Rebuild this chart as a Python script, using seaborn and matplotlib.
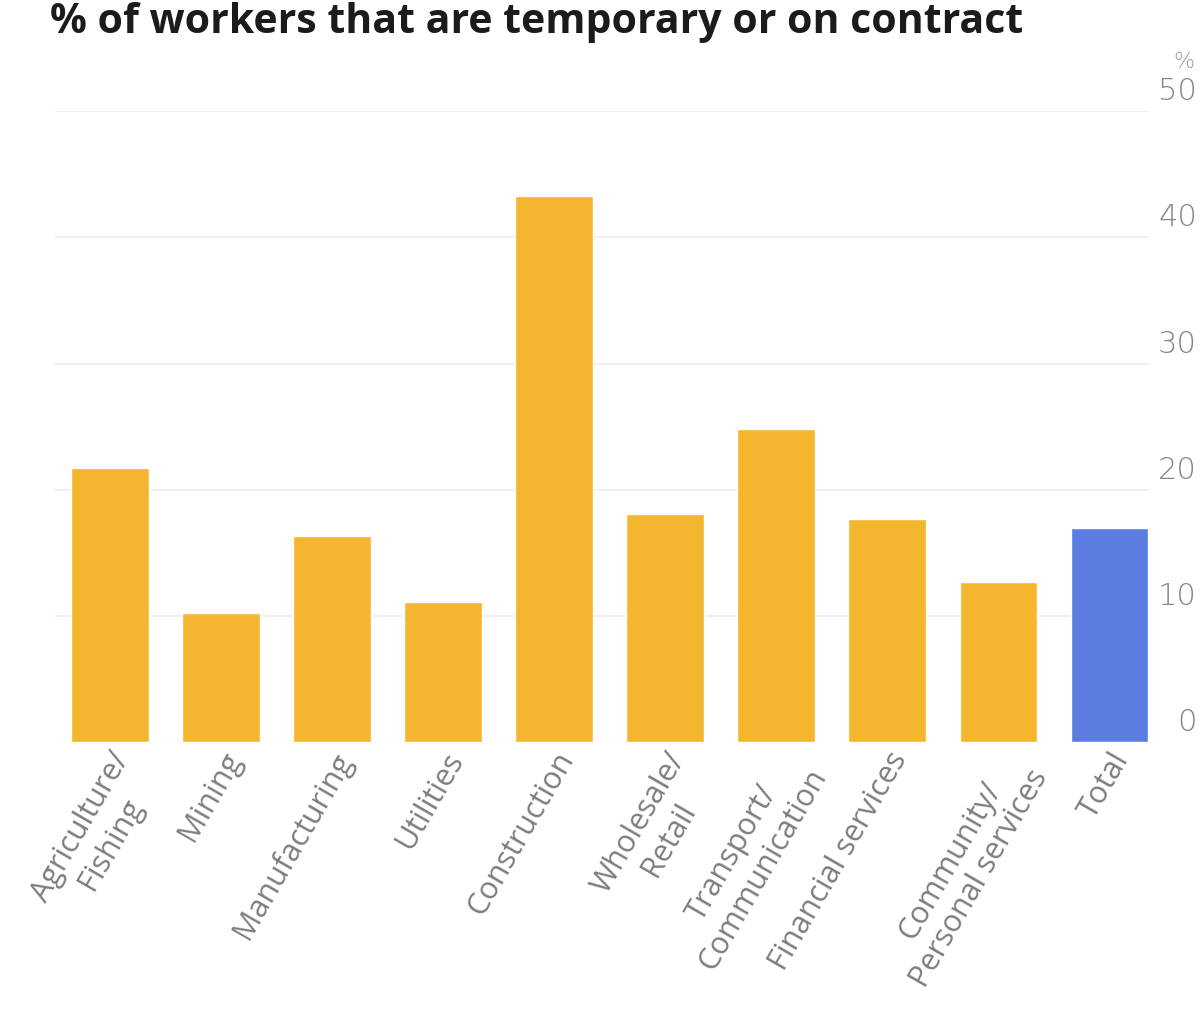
import matplotlib
matplotlib.use('Agg')
import matplotlib.pyplot as plt
import matplotlib.transforms as mtransforms
import seaborn as sns
import pandas as pd

# ----------------------------------------------------------------------
# data
# ----------------------------------------------------------------------
categories = [
    "Agriculture/\nFishing", "Mining", "Manufacturing", "Utilities",
    "Construction", "Wholesale/\nRetail", "Transport/\nCommunication",
    "Financial services", "Community/\nPersonal services", "Total",
]
values = [21.7, 10.2, 16.3, 11.1, 43.3, 18.1, 24.8, 17.7, 12.7, 17.0]
bar_colors = ["#F4B52F"] * 9 + ["#5B7CE0"]
y_ticks = [0, 10, 20, 30, 40, 50]
title = "% of workers that are temporary or on contract"


def main():
    sns.set_theme(style="white")
    plt.rcParams['font.family'] = ['Open Sans', 'DejaVu Sans']

    df = pd.DataFrame({"sector": categories, "share": values})

    fig = plt.figure(figsize=(12.01, 10.11), dpi=100)
    ax = fig.add_axes([0.0454, 0.266, 0.9246, 0.624])

    sns.barplot(data=df, x="sector", y="share", hue="sector",
                palette=bar_colors, legend=False, width=0.7,
                saturation=1, ax=ax)

    ax.set_ylim(0, 50)
    ax.set_xlim(-0.5, len(categories) - 0.5)
    ax.set_xlabel("")
    ax.set_ylabel("")
    for s in ax.spines.values():
        s.set_visible(False)

    # faint horizontal guides
    for t in y_ticks[1:]:
        ax.axhline(t, xmin=-0.01, xmax=0.985, color="#ececec", lw=1.2, zorder=0)

    # right-hand value axis, labels sitting just above each guide
    ax.yaxis.tick_right()
    ax.set_yticks(y_ticks)
    ax.set_yticklabels([str(t) for t in y_ticks])
    ax.tick_params(axis="y", length=0, pad=23, labelsize=22, labelcolor="#858585")
    up = mtransforms.ScaledTranslation(0, 11 / 100, fig.dpi_scale_trans)
    for lab in ax.get_yticklabels():
        lab.set_horizontalalignment("right")
        lab.set_verticalalignment("baseline")
        lab.set_transform(lab.get_transform() + up)
        lab.set_fontfamily("DejaVu Sans")
        lab.set_fontweight("light")

    # rotated sector names hanging under each bar
    ax.tick_params(axis="x", length=0, pad=0)
    ax.set_xticks(range(len(categories)))
    ax.set_xticklabels(categories, rotation=60, ha="right", va="top",
                       rotation_mode="anchor", multialignment="center",
                       fontsize=22, color="#7d7d7d")
    shift = mtransforms.ScaledTranslation(0, -5 / 100, fig.dpi_scale_trans)
    for lab in ax.get_xticklabels():
        lab.set_transform(lab.get_transform() + shift)

    fig.text(0.995, 1 - 68 / 1011, "%", fontsize=16, color="#9a9a9a",
             ha="right", va="baseline", family="DejaVu Sans", fontweight="light")
    fig.text(0.042, 1 - 33 / 1011, title, fontsize=29.5, fontweight="bold",
             color="#1b1b1b", ha="left", va="baseline")

    fig.savefig("out.png", dpi=100, facecolor="white")
    plt.close(fig)


if __name__ == "__main__":
    main()
